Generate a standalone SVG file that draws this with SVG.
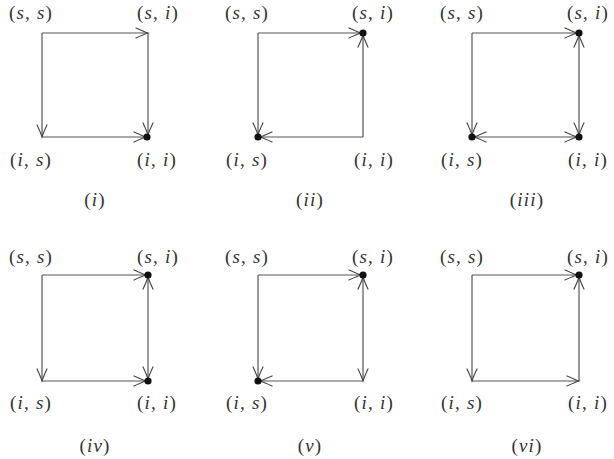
<svg xmlns="http://www.w3.org/2000/svg" width="614" height="459" viewBox="0 0 614 459">
<style>
.lbl{font-family:"Liberation Serif","DejaVu Serif",serif;font-size:19px;fill:#333;text-anchor:middle;letter-spacing:1.2px}
.it{font-style:italic}
.e{stroke:#555;stroke-width:1.2;fill:none}
.dot{fill:#111}
</style>
<defs>
<marker id="ah" markerUnits="userSpaceOnUse" markerWidth="16" markerHeight="14" viewBox="-14 -7 16 14" refX="0" refY="0" orient="auto-start-reverse">
<path d="M-12.5,-5.2 Q-4,-1.2 0,0 Q-4,1.2 -12.5,5.2" fill="none" stroke="#444" stroke-width="1.1"/>
</marker>
</defs>
<rect width="614" height="459" fill="#fff"/>
<g id="connectors">
<!-- panel i -->
<line class="e" x1="42" y1="33" x2="148" y2="33" marker-end="url(#ah)"/>
<line class="e" x1="42" y1="33" x2="42" y2="137" marker-end="url(#ah)"/>
<line class="e" x1="42" y1="137" x2="146" y2="137" marker-end="url(#ah)"/>
<line class="e" x1="148" y1="33" x2="148" y2="135" marker-end="url(#ah)"/>
<!-- panel ii -->
<line class="e" x1="258" y1="33" x2="361" y2="33" marker-end="url(#ah)"/>
<line class="e" x1="258" y1="33" x2="258" y2="135" marker-end="url(#ah)"/>
<line class="e" x1="363" y1="137" x2="260" y2="137" marker-end="url(#ah)"/>
<line class="e" x1="363" y1="137" x2="363" y2="35" marker-end="url(#ah)"/>
<!-- panel iii -->
<line class="e" x1="472" y1="33" x2="577" y2="33" marker-end="url(#ah)"/>
<line class="e" x1="472" y1="33" x2="472" y2="135" marker-end="url(#ah)"/>
<line class="e" x1="474" y1="137" x2="577" y2="137" marker-start="url(#ah)" marker-end="url(#ah)"/>
<line class="e" x1="579" y1="35" x2="579" y2="135" marker-start="url(#ah)" marker-end="url(#ah)"/>
<!-- panel iv -->
<line class="e" x1="42" y1="275" x2="146" y2="275" marker-end="url(#ah)"/>
<line class="e" x1="42" y1="275" x2="42" y2="381" marker-end="url(#ah)"/>
<line class="e" x1="42" y1="381" x2="146" y2="381" marker-end="url(#ah)"/>
<line class="e" x1="148" y1="277" x2="148" y2="379" marker-start="url(#ah)" marker-end="url(#ah)"/>
<!-- panel v -->
<line class="e" x1="258" y1="275" x2="361" y2="275" marker-end="url(#ah)"/>
<line class="e" x1="258" y1="275" x2="258" y2="379" marker-end="url(#ah)"/>
<line class="e" x1="363" y1="381" x2="260" y2="381" marker-end="url(#ah)"/>
<line class="e" x1="363" y1="277" x2="363" y2="381" marker-start="url(#ah)" marker-end="url(#ah)"/>
<!-- panel vi -->
<line class="e" x1="472" y1="275" x2="577" y2="275" marker-end="url(#ah)"/>
<line class="e" x1="472" y1="275" x2="472" y2="381" marker-end="url(#ah)"/>
<line class="e" x1="472" y1="381" x2="579" y2="381" marker-end="url(#ah)"/>
<line class="e" x1="579" y1="381" x2="579" y2="277" marker-end="url(#ah)"/>
</g>
<!-- panel i nodes -->
<g id="p1-ss"><text class="lbl" x="31" y="19">(<tspan class="it">s</tspan>, <tspan class="it">s</tspan>)</text></g>
<g id="p1-si"><text class="lbl" x="158" y="19">(<tspan class="it">s</tspan>, <tspan class="it">i</tspan>)</text></g>
<g id="p1-is"><text class="lbl" x="31" y="166">(<tspan class="it">i</tspan>, <tspan class="it">s</tspan>)</text></g>
<g id="p1-ii"><circle class="dot" cx="147" cy="137" r="3.6"/><text class="lbl" x="157" y="166">(<tspan class="it">i</tspan>, <tspan class="it">i</tspan>)</text></g>
<g id="p1-cap"><text class="lbl" x="95" y="206">(<tspan class="it">i</tspan>)</text></g>
<!-- panel ii nodes -->
<g id="p2-ss"><text class="lbl" x="247" y="19">(<tspan class="it">s</tspan>, <tspan class="it">s</tspan>)</text></g>
<g id="p2-si"><circle class="dot" cx="363" cy="33" r="3.6"/><text class="lbl" x="373" y="19">(<tspan class="it">s</tspan>, <tspan class="it">i</tspan>)</text></g>
<g id="p2-is"><circle class="dot" cx="258" cy="137" r="3.6"/><text class="lbl" x="247" y="166">(<tspan class="it">i</tspan>, <tspan class="it">s</tspan>)</text></g>
<g id="p2-ii"><text class="lbl" x="374" y="166">(<tspan class="it">i</tspan>, <tspan class="it">i</tspan>)</text></g>
<g id="p2-cap"><text class="lbl" x="310" y="206">(<tspan class="it">ii</tspan>)</text></g>
<!-- panel iii nodes -->
<g id="p3-ss"><text class="lbl" x="462" y="19">(<tspan class="it">s</tspan>, <tspan class="it">s</tspan>)</text></g>
<g id="p3-si"><circle class="dot" cx="579" cy="33" r="3.6"/><text class="lbl" x="588" y="19">(<tspan class="it">s</tspan>, <tspan class="it">i</tspan>)</text></g>
<g id="p3-is"><circle class="dot" cx="472" cy="137" r="3.6"/><text class="lbl" x="462" y="166">(<tspan class="it">i</tspan>, <tspan class="it">s</tspan>)</text></g>
<g id="p3-ii"><circle class="dot" cx="579" cy="137" r="3.6"/><text class="lbl" x="588" y="166">(<tspan class="it">i</tspan>, <tspan class="it">i</tspan>)</text></g>
<g id="p3-cap"><text class="lbl" x="527" y="206">(<tspan class="it">iii</tspan>)</text></g>
<!-- panel iv nodes -->
<g id="p4-ss"><text class="lbl" x="31" y="263">(<tspan class="it">s</tspan>, <tspan class="it">s</tspan>)</text></g>
<g id="p4-si"><circle class="dot" cx="148" cy="275" r="3.6"/><text class="lbl" x="158" y="263">(<tspan class="it">s</tspan>, <tspan class="it">i</tspan>)</text></g>
<g id="p4-is"><text class="lbl" x="31" y="409">(<tspan class="it">i</tspan>, <tspan class="it">s</tspan>)</text></g>
<g id="p4-ii"><circle class="dot" cx="148" cy="381" r="3.6"/><text class="lbl" x="157" y="409">(<tspan class="it">i</tspan>, <tspan class="it">i</tspan>)</text></g>
<g id="p4-cap"><text class="lbl" x="95" y="452">(<tspan class="it">iv</tspan>)</text></g>
<!-- panel v nodes -->
<g id="p5-ss"><text class="lbl" x="247" y="263">(<tspan class="it">s</tspan>, <tspan class="it">s</tspan>)</text></g>
<g id="p5-si"><circle class="dot" cx="363" cy="275" r="3.6"/><text class="lbl" x="373" y="263">(<tspan class="it">s</tspan>, <tspan class="it">i</tspan>)</text></g>
<g id="p5-is"><circle class="dot" cx="258" cy="381" r="3.6"/><text class="lbl" x="247" y="409">(<tspan class="it">i</tspan>, <tspan class="it">s</tspan>)</text></g>
<g id="p5-ii"><text class="lbl" x="374" y="409">(<tspan class="it">i</tspan>, <tspan class="it">i</tspan>)</text></g>
<g id="p5-cap"><text class="lbl" x="310" y="452">(<tspan class="it">v</tspan>)</text></g>
<!-- panel vi nodes -->
<g id="p6-ss"><text class="lbl" x="462" y="263">(<tspan class="it">s</tspan>, <tspan class="it">s</tspan>)</text></g>
<g id="p6-si"><circle class="dot" cx="579" cy="275" r="3.6"/><text class="lbl" x="588" y="263">(<tspan class="it">s</tspan>, <tspan class="it">i</tspan>)</text></g>
<g id="p6-is"><text class="lbl" x="462" y="409">(<tspan class="it">i</tspan>, <tspan class="it">s</tspan>)</text></g>
<g id="p6-ii"><text class="lbl" x="588" y="409">(<tspan class="it">i</tspan>, <tspan class="it">i</tspan>)</text></g>
<g id="p6-cap"><text class="lbl" x="527" y="452">(<tspan class="it">vi</tspan>)</text></g>
</svg>
